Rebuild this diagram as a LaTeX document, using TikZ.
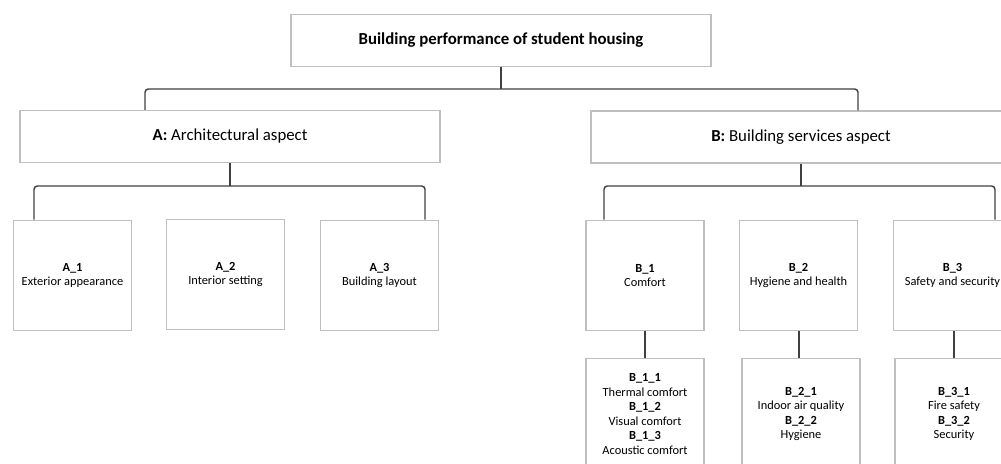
\documentclass[tikz,border=0pt]{standalone}
\usepackage{fontspec}
\setmainfont{Carlito}
\usetikzlibrary{positioning}

\tikzset{
  box/.style={draw=black!25,line width=0.9pt,fill=white,align=center,
    font=\fontsize{9.3}{10.9}\selectfont,inner sep=1pt},
  headbox/.style={box,minimum width=315pt,minimum height=39pt,font=\fontsize{12.6}{14}\selectfont},
  subbox/.style={box,minimum width=88.5pt,minimum height=83pt},
  link/.style={draw=black!75,line width=1.1pt,rounded corners=2.5pt}
}

\begin{document}
\begin{tikzpicture}[x=0.75pt,y=-0.75pt]
\useasboundingbox (0,0) rectangle (1001,464);
\clip (0,0) rectangle (1001,464);

% main levels
\node[headbox] (top) at (501,40.5) {\textbf{Building performance of student housing}};
\node[headbox] (A) at (230,136.5) {\textbf{A:} Architectural aspect};
\node[headbox] (B) at (801,137) {\textbf{B:} Building services aspect};

% criteria
\node[subbox] (A1) at (72.5,275.5) {\textbf{A\_1}\\Exterior appearance};
\node[subbox] (A2) at (225.5,274.5) {\textbf{A\_2}\\Interior setting};
\node[subbox] (A3) at (379.5,275.5) {\textbf{A\_3}\\Building layout};
\node[subbox] (B1) at (645,275.5) {\textbf{B\_1}\\Comfort};
\node[subbox] (B2) at (798.5,275.5) {\textbf{B\_2}\\Hygiene and health};
\node[subbox] (B3) at (952.5,275.5) {\textbf{B\_3}\\Safety and security};

% sub-criteria
\node[subbox] (B11) at (645,414) {\textbf{B\_1\_1}\\Thermal comfort\\\textbf{B\_1\_2}\\Visual comfort\\\textbf{B\_1\_3}\\Acoustic comfort};
\node[subbox] (B21) at (801,414) {\textbf{B\_2\_1}\\Indoor air quality\\\textbf{B\_2\_2}\\Hygiene};
\node[subbox] (B31) at (954,414) {\textbf{B\_3\_1}\\Fire safety\\\textbf{B\_3\_2}\\Security};

% connectors
\coordinate (busTop) at (501,89);
\coordinate (busA) at (230,186);
\coordinate (busB) at (801,186);
\draw[link] (top.south) -- (busTop);
\draw[link] (A.north -| 145,0) |- (busTop) -| (B.north -| 858,0);
\draw[link] (A.south) -- (busA);
\draw[link] (A1.north -| 34,0) |- (busA) -| (A3.north -| 425,0);
\draw[link] (B.south) -- (busB);
\draw[link] (B1.north -| 604,0) |- (busB) -| (B3.north -| 995,0);
\draw[link] (B1.south) -- (B11.north);
\draw[link] (B2.south -| 799,0) -- (B21.north -| 799,0);
\draw[link] (B3.south -| 954,0) -- (B31.north -| 954,0);
\end{tikzpicture}
\end{document}
